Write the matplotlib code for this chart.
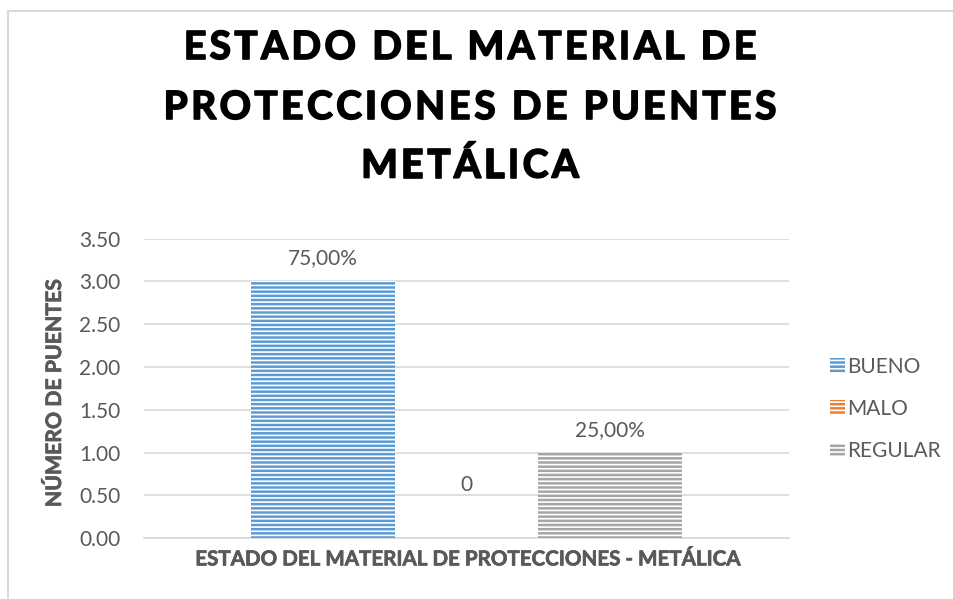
import matplotlib
matplotlib.use("Agg")
import matplotlib.pyplot as plt
import matplotlib.patheffects as pe
from matplotlib.patches import Rectangle

# datos
series = ["BUENO", "MALO", "REGULAR"]
valores = [3, 0, 1]
etiquetas = ["75,00%", "0", "25,00%"]
colores = ["#5B9BD5", "#ED7D31", "#A5A5A5"]
yticks = [0.0, 0.5, 1.0, 1.5, 2.0, 2.5, 3.0, 3.5]
titulo = ["ESTADO DEL MATERIAL DE", "PROTECCIONES DE PUENTES", "METÁLICA"]

plt.rcParams["font.family"] = ["Lato", "DejaVu Sans"]
plt.rcParams["hatch.linewidth"] = 1.2

gris_txt = "#595959"
W, H = 954, 599

fig = plt.figure(figsize=(9.54, 5.99), dpi=100)
ax = fig.add_axes([144 / W, 1 - 538.3 / H, 645 / W, 299.6 / H])

# borde del area del grafico
fig.patches.append(Rectangle((8.5 / W, -0.1), 1.2, 1.1 - 11.5 / H,
                             transform=fig.transFigure, fill=False,
                             edgecolor="#D9D9D9", linewidth=1.5, zorder=0))

posiciones = [-1, 0, 1]
for x, v, c, s in zip(posiciones, valores, colores, series):
    ax.bar(x, v, width=1.0, facecolor=c, edgecolor="#FFFFFF", hatch="----",
           linewidth=0, label=s, zorder=3)

offsets = [23, 53, 23]
for x, v, t, off in zip(posiciones, valores, etiquetas, offsets):
    ax.annotate(t, (x, v), xytext=(0, off), textcoords="offset pixels",
                ha="center", va="center", fontsize=15, color=gris_txt)

ax.set_xlim(-2.245, 2.245)
ax.set_ylim(0, 3.5)
ax.set_yticks(yticks)
ax.set_yticklabels([f"{t:.2f}" for t in yticks])
ax.set_xticks([])
ax.tick_params(axis="y", length=0, pad=17, labelsize=15, labelcolor=gris_txt)
ax.grid(axis="y", color="#D9D9D9", linewidth=1.2, zorder=0)
for sp in ["top", "right", "left"]:
    ax.spines[sp].set_visible(False)
ax.spines["bottom"].set_color("#D9D9D9")
ax.spines["bottom"].set_linewidth(1.2)

negrita_gris = [pe.withStroke(linewidth=0.5, foreground=gris_txt)]
ax.set_xlabel("ESTADO DEL MATERIAL DE PROTECCIONES - METÁLICA", fontsize=14.8,
              fontweight="bold", color=gris_txt, labelpad=8,
              path_effects=negrita_gris)
fig.text(55 / W, 1 - 393 / H, "NÚMERO DE PUENTES", rotation=90,
         ha="center", va="center", fontsize=15.3, fontweight="bold",
         color=gris_txt, path_effects=negrita_gris)

# titulo con espaciado entre letras
renderer = fig.canvas.get_renderer()
tmp = fig.text(0, 0, "", fontsize=28, fontweight="bold")


def ancho(s):
    tmp.set_text(s)
    return tmp.get_window_extent(renderer).width


espacio = 3.4
ref = ancho("H")
negrita = [pe.withStroke(linewidth=1.2, foreground="#000000")]
for linea, yc in zip(titulo, [47.5, 107.5, 166]):
    pos = [ancho(linea[:i] + "H") - ref for i in range(len(linea))]
    total = ancho(linea) + espacio * (len(linea) - 1)
    x0 = 470 - total / 2
    for i, ch in enumerate(linea):
        if ch == " ":
            continue
        fig.text((x0 + pos[i] + i * espacio) / W, 1 - yc / H, ch,
                 ha="left", va="center", fontsize=28, fontweight="bold",
                 color="#000000", path_effects=negrita)
tmp.remove()

leg = ax.legend(loc="center left", bbox_to_anchor=(1.035, 0.4316),
                frameon=False, fontsize=15, labelcolor=gris_txt,
                handlelength=0.72, handleheight=0.72, handletextpad=0.1,
                labelspacing=1.07)

fig.savefig("out.png", dpi=100)
